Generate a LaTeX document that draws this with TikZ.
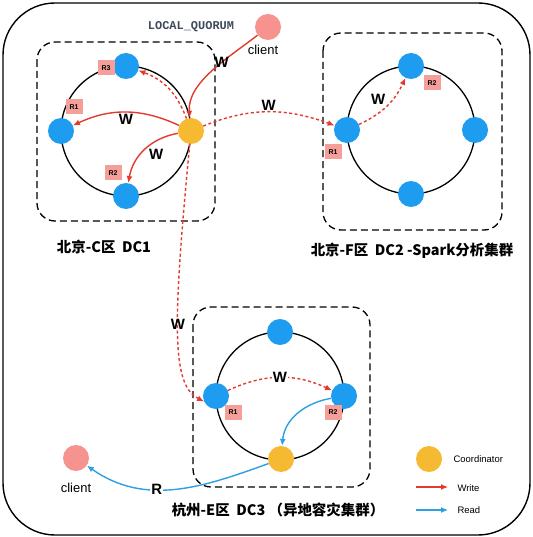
\documentclass[tikz,border=0pt]{standalone}
\usepackage{fontspec}
\setmainfont{Liberation Sans}
\setmonofont{Liberation Mono}
\newfontfamily\cjk{Noto Sans CJK SC}
\usetikzlibrary{arrows.meta}
\definecolor{nodeblue}{HTML}{1E9CF0}
\definecolor{coordyellow}{HTML}{F5B932}
\definecolor{clientpink}{HTML}{F7938F}
\definecolor{tagpink}{HTML}{F59F9A}
\definecolor{writered}{HTML}{E23A2E}
\definecolor{readblue}{HTML}{2D9FE2}
\definecolor{quorumgray}{HTML}{3F4B5B}

\begin{document}
\begin{tikzpicture}[x=1bp,y=1bp,
    replica/.style={circle,fill=nodeblue,minimum size=26bp,inner sep=0pt},
    coordinator/.style={replica,fill=coordyellow},
    clientnode/.style={replica,fill=clientpink},
    tag/.style={fill=tagpink,font=\bfseries\fontsize{7}{7}\selectfont,
        minimum width=17bp,minimum height=15bp,inner sep=0pt},
    ring/.style={line width=1.3bp},
    dcbox/.style={line width=1.3bp,dash pattern=on 7bp off 4bp,rounded corners=18bp},
    dclabel/.style={font=\cjk\bfseries\fontsize{14.5}{15}\selectfont},
    writearrow/.style={writered,line width=1.4bp,-{Latex[length=7pt,width=6pt]}},
    remotearrow/.style={writearrow,dash pattern=on 3bp off 2.5bp},
    readarrow/.style={readblue,line width=1.4bp,-{Latex[length=7pt,width=6pt]}},
    wlabel/.style={text=black,font=\bfseries\fontsize{15}{15}\selectfont,inner sep=1bp},
    small/.style={font=\fontsize{9.5}{10}\selectfont},
]
    \useasboundingbox (0,0) rectangle (533,-537);
    % Outer frame
    \draw[line width=1.4bp,rounded corners=52bp] (3,-3) rectangle (530,-535);

    % DC1
    \draw[dcbox] (37,-42) rectangle (215,-221);
    \draw[ring] (126,-131) circle (65);
    \node[replica] (dc1r3) at (126,-66) {};
    \node[replica] (dc1r1) at (61,-131) {};
    \node[replica] (dc1r2) at (126,-196) {};
    \node[coordinator] (dc1co) at (191,-131) {};
    \node[tag] (t1r3) at (106,-68) {R3};
    \node[tag] (t1r1) at (74,-107) {R1};
    \node[tag] (t1r2) at (113,-173) {R2};
    \node[dclabel] (dc1name) at (104,-247) {北京-C区\ \ DC1};

    % DC2
    \draw[dcbox] (323,-33) rectangle (502,-230);
    \draw[ring] (411,-130) circle (64);
    \node[replica] (dc2r2) at (411,-66) {};
    \node[replica] (dc2r1) at (347,-130) {};
    \node[replica] (dc2e) at (475,-130) {};
    \node[replica] (dc2s) at (411,-194) {};
    \node[tag] (t2r2) at (432,-83) {R2};
    \node[tag] (t2r1) at (333,-152) {R1};
    \node[dclabel] (dc2name) at (412,-251) {北京-F区\ \ DC2 -Spark分析集群};

    % DC3
    \draw[dcbox] (193,-307) rectangle (370,-487);
    \draw[ring] (280,-396) circle (64);
    \node[replica] (dc3n) at (280,-332) {};
    \node[replica] (dc3r1) at (216,-396) {};
    \node[replica] (dc3r2) at (344,-396) {};
    \node[coordinator] (dc3co) at (281,-459) {};
    \node[tag] (t3r1) at (233,-412) {R1};
    \node[tag] (t3r2) at (333,-412) {R2};
    \node[dclabel] (dc3name) at (278,-510) {杭州-E区\ \ DC3 （异地容灾集群）};

    % Clients
    \node[clientnode] (client1) at (268,-27) {};
    \node[font=\fontsize{13}{13}\selectfont] (client1txt) at (263,-50) {client};
    \node[font=\ttfamily\bfseries\fontsize{12}{12}\selectfont,text=quorumgray] (quorum) at (191,-27) {LOCAL\_QUORUM};
    \node[clientnode] (client2) at (76,-458) {};
    \node[font=\fontsize{13}{13}\selectfont] (client2txt) at (76,-488) {client};

    % Writes inside DC1
    \draw[writearrow] (client1) to[out=218,in=95,looseness=0.85] node[wlabel,pos=0.38,xshift=-1bp]{W} (dc1co);
    \draw[writearrow] (dc1co) to[out=155,in=25] node[wlabel,midway,below]{W} (dc1r1);
    \draw[writearrow] (dc1co) to[out=190,in=80] node[wlabel,pos=0.45,below right]{W} (dc1r2);
    \draw[remotearrow] (dc1co) to[out=110,in=-20] (dc1r3);

    % Writes to the other DCs
    \draw[remotearrow] (dc1co) to[out=22,in=160] node[wlabel,midway,above]{W} (dc2r1);
    \draw[remotearrow] (dc2r1) to[out=25,in=245] node[wlabel,midway,above left]{W} (dc2r2);
    \draw[remotearrow] (dc1co) .. controls (172,-330) and (172,-385) .. node[wlabel,pos=0.45]{W} (dc3r1.205);
    \draw[remotearrow] (dc3r1) to[out=25,in=155] node[wlabel,midway,fill=white]{W} (dc3r2);

    % Read back to the client
    \draw[readarrow] (dc3r2) to[out=190,in=85] (dc3co);
    \draw[readarrow] (dc3co) to[out=200,in=-35] node[wlabel,pos=0.6,fill=white]{R} (client2);

    % Legend
    \node[coordinator] (legco) at (429,-459) {};
    \node[small,anchor=west] (legcotxt) at (450,-459) {Coordinator};
    \coordinate (lw1) at (416,-487);
    \coordinate (lw2) at (448,-487);
    \draw[writearrow,line width=1.2bp] (lw1) -- (lw2);
    \node[small,anchor=west] (legw) at (454,-488) {Write};
    \coordinate (lr1) at (416,-510);
    \coordinate (lr2) at (448,-510);
    \draw[readarrow,line width=1.2bp] (lr1) -- (lr2);
    \node[small,anchor=west] (legr) at (454,-510) {Read};
\end{tikzpicture}
\end{document}
